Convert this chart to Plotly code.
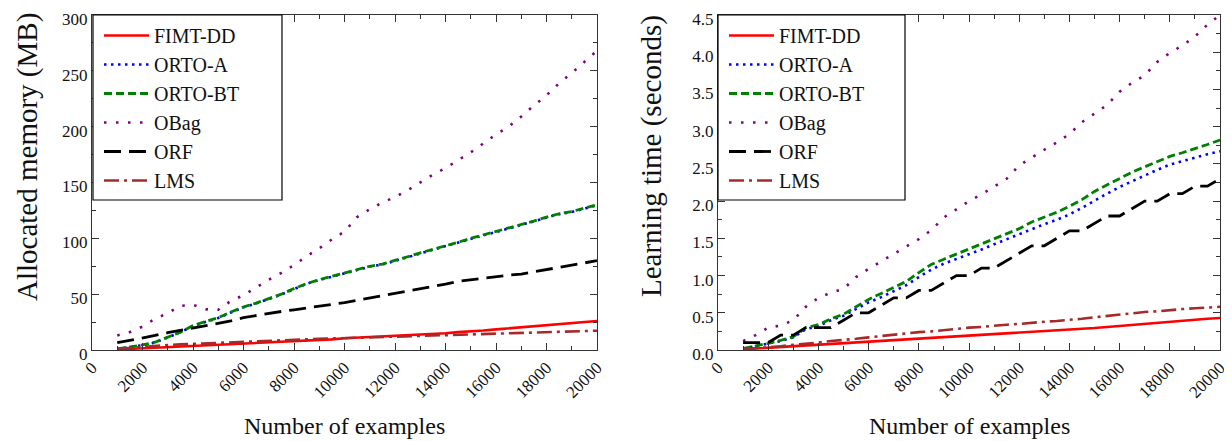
import plotly.graph_objects as go

examples = [1000, 1500, 2000, 2500, 3000, 3500, 4000, 4500, 5000, 5500, 6000, 6500, 7000,
            7500, 8000, 8500, 9000, 9500, 10000, 10500, 11000, 11500, 12000, 12500, 13000,
            13500, 14000, 14500, 15000, 15500, 16000, 16500, 17000, 17500, 18000, 18500,
            19000, 19500, 20000]

series_names = ["FIMT-DD", "ORTO-A", "ORTO-BT", "OBag", "ORF", "LMS"]

# Allocated memory (MB)
mem_fimt = [0.5, 1, 1.5, 2.5, 3, 3.5, 4, 4.5, 5, 5.5, 6, 6.5, 7, 7.5, 8, 8.5, 9, 9.5, 10.5,
            11, 11.5, 12, 12.5, 13, 13.5, 14.5, 15, 16, 16.5, 17.5, 18.5, 19.5, 20.5, 21.5,
            22, 23, 24, 25, 26]
mem_ortoa = [0.8, 2.3, 4.3, 6.8, 11.2, 15.8, 21.6, 25.2, 28.7, 33.6, 38.2, 41.7, 45.6, 49.7,
             54.6, 59.2, 62.7, 65.6, 68.2, 71.6, 74.7, 76.6, 79.7, 83.2, 86.6, 89.7, 93.1,
             96.2, 99.6, 102.7, 105.6, 108.7, 111.6, 115.2, 118.6, 121.7, 123.6, 126.7, 129.6]
mem_ortobt = [1, 2.5, 4.5, 7, 11.5, 16, 22, 25.5, 29, 34, 38.5, 42, 46, 50, 55, 59.5, 63, 66,
              68.5, 72, 75, 77, 80, 83.5, 87, 90, 93.5, 96.5, 100, 103, 106, 109, 112, 115.5,
              119, 122, 124, 127, 130]
mem_obag = [13, 16, 21, 28, 33, 39.5, 40.5, 36.5, 36, 44, 49, 56, 63, 69, 76, 84, 91, 99, 106,
            119, 126, 132, 137, 143, 150, 157, 163, 170, 177, 185, 193, 200, 209, 219, 228,
            239, 248, 258, 268]
mem_orf = [6.5, 8.5, 10.5, 13, 15.5, 17.5, 19.5, 21.5, 23.5, 26, 29, 31, 33, 34.5, 36, 37.5,
           39, 40.5, 42.5, 44.5, 46.5, 48.5, 50.5, 52.5, 55, 57, 59, 61.5, 63, 64.5, 65.5, 67,
           68, 70, 72, 74, 76, 78, 80]
mem_lms = [1, 2, 3, 3.5, 4.5, 5, 5.5, 6, 6.5, 7, 7.5, 8, 8.5, 9, 9.5, 9.8, 10, 10.3, 10.6, 11,
           11.3, 11.6, 12, 12.3, 12.6, 13, 13.3, 13.6, 14, 14.3, 14.6, 15, 15.3, 15.7, 16, 16.3,
           16.6, 17, 17.3]

# Learning time (seconds)
time_fimt = [0.01, 0.02, 0.03, 0.04, 0.05, 0.055, 0.065, 0.075, 0.085, 0.095, 0.105, 0.115,
             0.125, 0.135, 0.145, 0.155, 0.165, 0.175, 0.185, 0.195, 0.205, 0.215, 0.225,
             0.235, 0.245, 0.255, 0.265, 0.28, 0.295, 0.31, 0.325, 0.34, 0.355, 0.37, 0.385,
             0.4, 0.41, 0.42, 0.43]
time_ortoa = [0.02, 0.05, 0.09, 0.12, 0.17, 0.28, 0.32, 0.4, 0.46, 0.55, 0.64, 0.71, 0.79,
              0.87, 0.98, 1.08, 1.16, 1.22, 1.29, 1.35, 1.42, 1.49, 1.56, 1.63, 1.69, 1.75,
              1.82, 1.91, 2.01, 2.1, 2.19, 2.27, 2.34, 2.42, 2.49, 2.54, 2.59, 2.63, 2.67]
time_ortobt = [0.02, 0.05, 0.09, 0.13, 0.18, 0.3, 0.34, 0.42, 0.48, 0.58, 0.68, 0.76, 0.84,
               0.92, 1.04, 1.15, 1.22, 1.29, 1.36, 1.42, 1.49, 1.56, 1.63, 1.72, 1.78, 1.85,
               1.93, 2.02, 2.13, 2.22, 2.31, 2.39, 2.46, 2.53, 2.6, 2.65, 2.7, 2.76, 2.82]
time_obag = [0.12, 0.2, 0.3, 0.33, 0.4, 0.58, 0.7, 0.77, 0.82, 0.98, 1.09, 1.19, 1.29, 1.39,
             1.49, 1.61, 1.78, 1.89, 2.0, 2.09, 2.19, 2.3, 2.48, 2.59, 2.69, 2.79, 2.9, 3.06,
             3.18, 3.29, 3.47, 3.59, 3.69, 3.87, 3.99, 4.09, 4.21, 4.37, 4.5]
time_orf = [0.1, 0.1, 0.1, 0.2, 0.2, 0.3, 0.3, 0.3, 0.4, 0.5, 0.5, 0.6, 0.7, 0.7, 0.8, 0.8,
            0.9, 1.0, 1.0, 1.1, 1.1, 1.2, 1.3, 1.4, 1.4, 1.5, 1.6, 1.6, 1.7, 1.8, 1.8, 1.9,
            2.0, 2.0, 2.1, 2.1, 2.2, 2.2, 2.3]
time_lms = [0.01, 0.02, 0.03, 0.05, 0.07, 0.08, 0.1, 0.12, 0.13, 0.15, 0.17, 0.19, 0.21,
            0.22, 0.24, 0.25, 0.27, 0.28, 0.3, 0.31, 0.33, 0.34, 0.35, 0.37, 0.38, 0.39, 0.4,
            0.42, 0.44, 0.46, 0.48, 0.5, 0.51, 0.52, 0.54, 0.55, 0.56, 0.57, 0.58]

x_tick_vals = [0, 2000, 4000, 6000, 8000, 10000, 12000, 14000, 16000, 18000, 20000]
x_tick_text = ["0", "2000", "4000", "6000", "8000", "10000", "12000", "14000", "16000",
               "18000", "20000"]
mem_tick_vals = [0, 50, 100, 150, 200, 250, 300]
mem_tick_text = ["0", "50", "100", "150", "200", "250", "300"]
time_tick_vals = [0.0, 0.5, 1.0, 1.5, 2.0, 2.5, 3.0, 3.5, 4.0, 4.5]
time_tick_text = ["0.0", "0.5", "1.0", "1.5", "2.0", "2.5", "3.0", "3.5", "4.0", "4.5"]

styles = [
    dict(color="#ff0000", width=2.6, dash="solid"),
    dict(color="#0000ff", width=2.6, dash="2.5px,4.5px"),
    dict(color="#008000", width=2.8, dash="8px,4px"),
    dict(color="#800080", width=2.6, dash="2.5px,9.5px"),
    dict(color="#000000", width=2.8, dash="17px,8px"),
    dict(color="#a52a2a", width=2.6, dash="15px,5px,3px,5px"),
]

FONT = "Liberation Serif"

fig = go.Figure()
mem_series = [mem_fimt, mem_ortoa, mem_ortobt, mem_obag, mem_orf, mem_lms]
time_series = [time_fimt, time_ortoa, time_ortobt, time_obag, time_orf, time_lms]
for name, ys, st in zip(series_names, mem_series, styles):
    fig.add_trace(go.Scatter(x=examples, y=ys, mode="lines", name=name, line=st,
                             xaxis="x", yaxis="y", legend="legend"))
for name, ys, st in zip(series_names, time_series, styles):
    fig.add_trace(go.Scatter(x=examples, y=ys, mode="lines", name=name, line=st,
                             xaxis="x2", yaxis="y2", legend="legend2"))

# the page body adds an 8px offset, so the figure is 8px smaller and all positions shift by 8
OFF = 8
W, H = 1232 - OFF, 441 - OFF


def px(x):
    return (x - OFF) / W


def py(y):
    return (H - (y - OFF)) / H


left_dom = [px(92), px(597)]
right_dom = [px(718), px(1220)]
y_dom = [py(350), py(15)]

axis_common = dict(
    showline=True, linecolor="#333333", linewidth=1.3, mirror="allticks",
    ticks="inside", ticklen=7, tickwidth=1.2, tickcolor="#333333",
    showgrid=False, zeroline=False, automargin=False, ticklabeloverflow="allow",
    tickfont=dict(family=FONT, size=17, color="#111111"),
)
minor_common = dict(ticks="inside", ticklen=4, tickwidth=1, tickcolor="#333333", showgrid=False)

legend_common = dict(xanchor="left", yanchor="top", bgcolor="rgba(0,0,0,0)",
                     borderwidth=0, font=dict(family=FONT, size=20, color="#111111"),
                     itemwidth=45)

fig.update_layout(
    template="none",
    width=W, height=H,
    margin=dict(l=0, r=0, t=0, b=0, autoexpand=False),
    paper_bgcolor="white", plot_bgcolor="white",
    font=dict(family=FONT, color="#111111"),
    xaxis=dict(domain=left_dom, range=[0, 20000], tickvals=x_tick_vals, ticktext=x_tick_text,
               tickangle=-45, anchor="y", minor=dict(dtick=1000, **minor_common), **axis_common),
    yaxis=dict(domain=y_dom, range=[0, 300], tickvals=mem_tick_vals, ticktext=mem_tick_text,
               anchor="x", ticklabelshift=4, minor=dict(dtick=25, **minor_common),
               **axis_common),
    xaxis2=dict(domain=right_dom, range=[0, 20000], tickvals=x_tick_vals, ticktext=x_tick_text,
                tickangle=-45, anchor="y2", minor=dict(dtick=1000, **minor_common), **axis_common),
    yaxis2=dict(domain=y_dom, range=[0, 4.5], tickvals=time_tick_vals, ticktext=time_tick_text,
                anchor="x2", ticklabelshift=4, minor=dict(dtick=0.25, **minor_common),
                **axis_common),
    legend=dict(x=px(99), y=py(16), **legend_common),
    legend2=dict(x=px(724), y=py(16), **legend_common),
    showlegend=True,
)

# legend frames (white boxes with a black border, as in the reference)
shapes = [
    dict(type="rect", xref="paper", yref="paper", x0=px(93), x1=px(282), y0=py(200), y1=py(15),
         fillcolor="white", line=dict(color="#000000", width=1.2), layer="above"),
    dict(type="rect", xref="paper", yref="paper", x0=px(718), x1=px(905), y0=py(200), y1=py(15),
         fillcolor="white", line=dict(color="#000000", width=1.2), layer="above"),
]
fig.update_layout(shapes=shapes)

annotations = [
    dict(text="Number of examples", x=(left_dom[0] + left_dom[1]) / 2, y=py(426),
         xanchor="center", yanchor="middle",
         xref="paper", yref="paper", showarrow=False, font=dict(family=FONT, size=24)),
    dict(text="Number of examples", x=(right_dom[0] + right_dom[1]) / 2, y=py(426),
         xanchor="center", yanchor="middle",
         xref="paper", yref="paper", showarrow=False, font=dict(family=FONT, size=24)),
    dict(text="Allocated memory (MB)", x=px(27), y=py(157), textangle=-90,
         xanchor="center", yanchor="middle",
         xref="paper", yref="paper", showarrow=False, font=dict(family=FONT, size=29)),
    dict(text="Learning time (seconds)", x=px(652), y=py(156), textangle=-90,
         xanchor="center", yanchor="middle",
         xref="paper", yref="paper", showarrow=False, font=dict(family=FONT, size=29)),
]
fig.update_layout(annotations=annotations)

fig.write_html("out.html")
